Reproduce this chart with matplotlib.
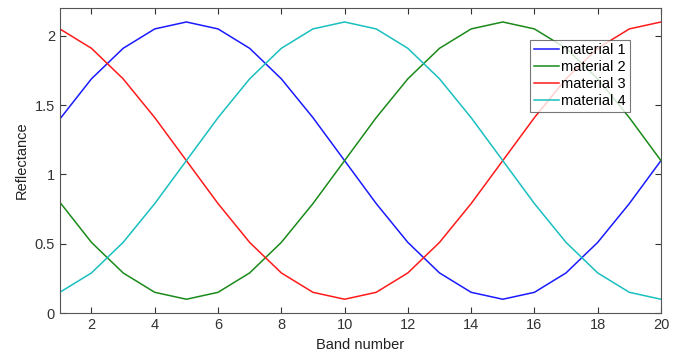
import matplotlib
matplotlib.use("Agg")
import matplotlib.pyplot as plt

plt.rcParams['font.family'] = ['Liberation Sans', 'DejaVu Sans']

bands = list(range(1, 21))
material1 = [1.40, 1.69, 1.91, 2.05, 2.10, 2.05, 1.91, 1.69, 1.41, 1.10,
             0.79, 0.51, 0.29, 0.15, 0.10, 0.15, 0.29, 0.51, 0.79, 1.10]
material2 = [0.80, 0.51, 0.29, 0.15, 0.10, 0.15, 0.29, 0.51, 0.79, 1.10,
             1.41, 1.69, 1.91, 2.05, 2.10, 2.05, 1.91, 1.69, 1.41, 1.10]
material3 = [2.05, 1.91, 1.69, 1.41, 1.10, 0.79, 0.51, 0.29, 0.15, 0.10,
             0.15, 0.29, 0.51, 0.79, 1.10, 1.41, 1.69, 1.91, 2.05, 2.10]
material4 = [0.15, 0.29, 0.51, 0.79, 1.10, 1.41, 1.69, 1.91, 2.05, 2.10,
             2.05, 1.91, 1.69, 1.41, 1.10, 0.79, 0.51, 0.29, 0.15, 0.10]
labels = ['material 1', 'material 2', 'material 3', 'material 4']
colors = ['#1a1aff', '#1a8a1a', '#ff1a1a', '#1abfbf']

fig = plt.figure(figsize=(6.8, 3.53), dpi=100)
ax = fig.add_axes([0.088, 0.113, 0.884, 0.864])
for y, lab, c in zip([material1, material2, material3, material4], labels, colors):
    ax.plot(bands, y, color=c, lw=1.1, label=lab)

ax.set_xlim(1, 20)
ax.set_ylim(0, 2.2)
ax.set_xticks([2, 4, 6, 8, 10, 12, 14, 16, 18, 20])
ax.set_yticks([0, 0.5, 1, 1.5, 2])
ax.set_yticklabels(['0', '0.5', '1', '1.5', '2'])
ax.tick_params(direction='in', top=True, right=True, labelsize=10.5, colors='#333333',
               length=4, width=0.8)
for s in ax.spines.values():
    s.set_color('#555555')
    s.set_linewidth(0.8)
ax.set_xlabel('Band number', fontsize=10.5, color='#222222')
ax.set_ylabel('Reflectance', fontsize=10.5, color='#222222')

leg = ax.legend(loc='upper right', bbox_to_anchor=(0.948, 0.897), fontsize=10.5,
                frameon=True, fancybox=False, handlelength=1.7, handletextpad=0.2,
                borderpad=0.25, labelspacing=0.2, borderaxespad=0)
leg.get_frame().set_edgecolor('#555555')
leg.get_frame().set_linewidth(0.8)

fig.savefig('out.png', dpi=100)
